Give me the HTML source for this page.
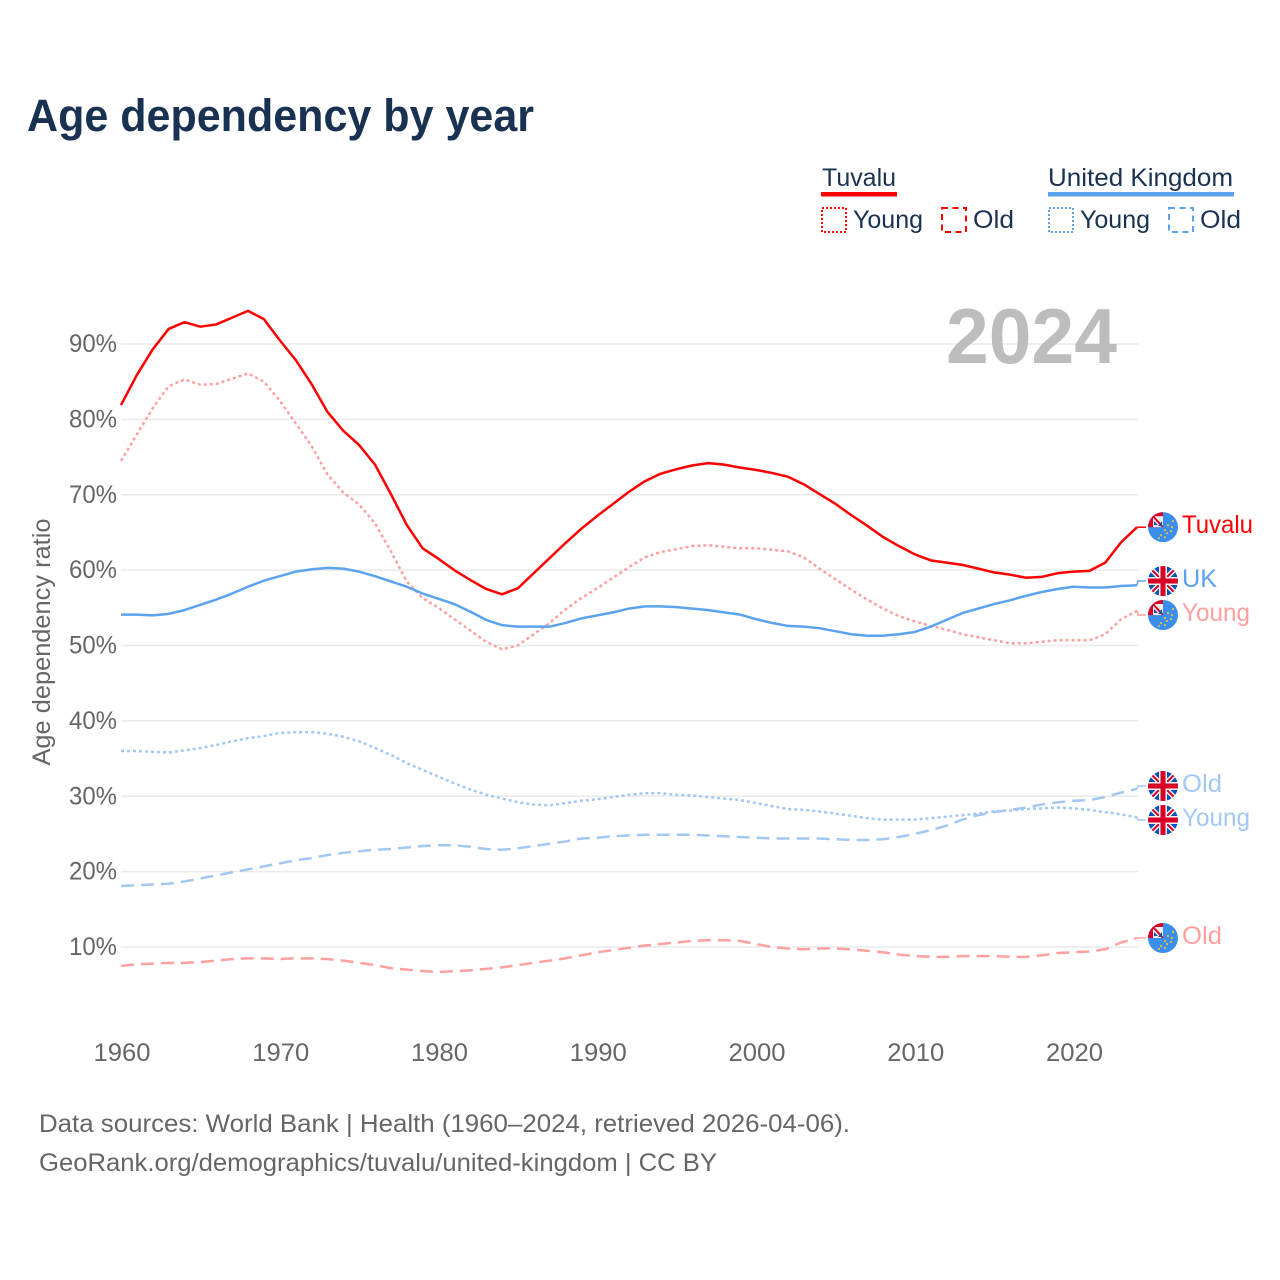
<!DOCTYPE html>
<html lang="en">
<head>
<meta charset="utf-8">
<title>Age dependency by year</title>
<style>
html,body{margin:0;padding:0;background:#fff;}
svg{display:block;font-family:"Liberation Sans",sans-serif;}
</style>
</head>
<body>
<svg id="chart" xmlns="http://www.w3.org/2000/svg" width="1280" height="1280" viewBox="0 0 1280 1280">
  <defs>
    <clipPath id="flag-clip"><circle cx="0" cy="0" r="15"/></clipPath>
    <clipPath id="tv-jack-clip"><rect x="-15" y="-15" width="15" height="15"/></clipPath>
    <symbol id="flag-uk" viewBox="-15 -15 30 30" overflow="visible">
      <g clip-path="url(#flag-clip)">
        <rect x="-15" y="-15" width="30" height="30" fill="#0052b4"/>
        <path d="M-15 -15L15 15M15 -15L-15 15" stroke="#f0f0f0" stroke-width="5"/>
        <path d="M-15 -15L15 15M15 -15L-15 15" stroke="#d80027" stroke-width="2"/>
        <path d="M0 -15V15M-15 0H15" stroke="#f0f0f0" stroke-width="8"/>
        <path d="M0 -15V15M-15 0H15" stroke="#d80027" stroke-width="5"/>
      </g>
    </symbol>
    <symbol id="flag-tv" viewBox="-15 -15 30 30" overflow="visible">
      <g clip-path="url(#flag-clip)">
        <rect x="-15" y="-15" width="30" height="30" fill="#3a8fee"/>
        <rect x="-15" y="-15" width="15" height="15" fill="#d80027"/>
        <rect x="-10" y="-11" width="10" height="11" fill="#f0f0f0"/>
        <g clip-path="url(#tv-jack-clip)">
          <path d="M-10 -11L0 0" stroke="#d80027" stroke-width="2"/>
          <path d="M-5 -1L-1 -1L-1 -6Z" fill="#1f4a96"/>
          <path d="M-9 -6L-5 -2L-9 -2Z" fill="#1f4a96"/>
        </g>
        <g fill="#e8c040">
          <circle cx="10" cy="-6" r="1.1"/><circle cx="5" cy="-2" r="1.1"/><circle cx="9" cy="0" r="1.1"/>
          <circle cx="2" cy="3" r="1.1"/><circle cx="8" cy="4" r="1.1"/><circle cx="4" cy="6" r="1.1"/>
          <circle cx="-2" cy="8" r="1.1"/><circle cx="2" cy="10" r="1.1"/><circle cx="-4" cy="11" r="1.1"/>
        </g>
      </g>
    </symbol>
  </defs>

  <text x="27" y="131" font-size="45" font-weight="700" fill="#1a3251" textLength="507" lengthAdjust="spacingAndGlyphs">Age dependency by year</text>

  <g font-size="25" fill="#1a3251">
    <g>
      <text x="822" y="186" textLength="74" lengthAdjust="spacingAndGlyphs">Tuvalu</text>
      <rect x="821" y="192" width="76" height="4.5" fill="#ff0000"/>
      <rect x="822" y="208" width="24" height="24" fill="none" stroke="#ff0000" stroke-width="2" stroke-dasharray="2 2"/>
      <text x="853" y="228" textLength="70" lengthAdjust="spacingAndGlyphs">Young</text>
      <rect x="942" y="208" width="24" height="24" fill="none" stroke="#ff0000" stroke-width="2" stroke-dasharray="6 4.5"/>
      <text x="973" y="228" textLength="41" lengthAdjust="spacingAndGlyphs">Old</text>
    </g>
    <g>
      <text x="1048" y="186" textLength="185" lengthAdjust="spacingAndGlyphs">United Kingdom</text>
      <rect x="1048" y="192" width="186" height="4.5" fill="#5ba3ee"/>
      <rect x="1049" y="208" width="24" height="24" fill="none" stroke="#5ba3ee" stroke-width="2" stroke-dasharray="2 2"/>
      <text x="1080" y="228" textLength="70" lengthAdjust="spacingAndGlyphs">Young</text>
      <rect x="1169" y="208" width="24" height="24" fill="none" stroke="#5ba3ee" stroke-width="2" stroke-dasharray="6 4.5"/>
      <text x="1200" y="228" textLength="41" lengthAdjust="spacingAndGlyphs">Old</text>
    </g>
  </g>

  <g id="grid"></g>
  <g id="yticks" font-size="25" fill="#666"></g>
  <g id="xticks" font-size="25" fill="#666"></g>

  <text transform="translate(50,642) rotate(-90)" text-anchor="middle" font-size="25" fill="#666" textLength="247" lengthAdjust="spacingAndGlyphs">Age dependency ratio</text>

  <text x="946" y="363" font-size="78" font-weight="700" fill="#bdbdbd" textLength="171" lengthAdjust="spacingAndGlyphs">2024</text>

  <g id="series"></g>
  <g id="end-labels" font-size="25"></g>

  <g font-size="25" fill="#666">
    <text x="39" y="1132" textLength="811" lengthAdjust="spacingAndGlyphs">Data sources: World Bank | Health (1960–2024, retrieved 2026-04-06).</text>
    <text x="39" y="1171" textLength="678" lengthAdjust="spacingAndGlyphs">GeoRank.org/demographics/tuvalu/united-kingdom | CC BY</text>
  </g>
</svg>
<script>
const firstYear = 1960;
const yTickValues = [10, 20, 30, 40, 50, 60, 70, 80, 90];
const xTickValues = [1960, 1970, 1980, 1990, 2000, 2010, 2020];

const tuvaluTotal = [81.9,85.9,89.3,92,92.9,92.3,92.6,93.5,94.4,93.3,90.5,87.9,84.7,81,78.5,76.6,74,70.1,66,62.9,61.5,60,58.7,57.5,56.8,57.6,59.6,61.6,63.6,65.5,67.2,68.8,70.4,71.8,72.8,73.4,73.9,74.2,74,73.6,73.3,72.9,72.4,71.4,70.1,68.8,67.3,65.9,64.4,63.2,62.1,61.3,61,60.7,60.2,59.7,59.4,59,59.1,59.6,59.8,59.9,61,63.7,65.7];
const tuvaluYoung = [74.5,78,81.5,84.4,85.3,84.6,84.7,85.4,86.1,85,82.5,79.5,76.5,72.7,70.3,68.7,66.2,62.5,58.5,56.3,55,53.5,52,50.5,49.5,50,51.5,53,54.8,56.3,57.6,59,60.4,61.7,62.4,62.8,63.2,63.3,63.1,62.9,62.9,62.7,62.5,61.7,60.2,58.8,57.4,56.1,54.9,53.9,53.2,52.6,52.1,51.5,51.1,50.7,50.3,50.3,50.5,50.7,50.7,50.7,51.5,53.5,54.6];
const tuvaluOld = [7.5,7.7,7.8,7.9,7.9,8,8.2,8.4,8.5,8.5,8.4,8.5,8.5,8.4,8.2,7.9,7.6,7.2,7,6.8,6.7,6.8,6.9,7.1,7.3,7.6,7.9,8.2,8.5,8.9,9.3,9.6,9.9,10.2,10.4,10.6,10.8,10.9,10.9,10.8,10.4,10,9.8,9.7,9.8,9.8,9.7,9.5,9.3,9,8.8,8.7,8.7,8.8,8.8,8.8,8.7,8.7,8.9,9.2,9.3,9.4,9.7,10.6,11.2];
const ukTotal = [54.1,54.1,54,54.2,54.7,55.4,56.1,56.9,57.8,58.6,59.2,59.8,60.1,60.3,60.2,59.8,59.2,58.5,57.8,56.9,56.2,55.5,54.5,53.4,52.7,52.5,52.5,52.5,53,53.6,54,54.4,54.9,55.2,55.2,55.1,54.9,54.7,54.4,54.1,53.5,53,52.6,52.5,52.3,51.9,51.5,51.3,51.3,51.5,51.8,52.5,53.4,54.3,54.9,55.5,56,56.6,57.1,57.5,57.8,57.7,57.7,57.9,58];
const ukYoung = [36,36,35.9,35.8,36.1,36.4,36.8,37.3,37.7,38,38.4,38.5,38.5,38.3,37.9,37.3,36.4,35.5,34.4,33.5,32.6,31.7,30.9,30.2,29.7,29.2,28.9,28.8,29.1,29.4,29.6,29.9,30.2,30.4,30.4,30.2,30.1,29.9,29.7,29.5,29.1,28.7,28.3,28.2,28,27.7,27.4,27.1,26.9,26.9,26.9,27.1,27.3,27.5,27.7,28,28.1,28.3,28.4,28.5,28.4,28.2,27.9,27.6,27.2];
const ukOld = [18.1,18.2,18.3,18.4,18.7,19.1,19.5,19.9,20.3,20.7,21.1,21.5,21.8,22.2,22.5,22.7,22.9,23,23.2,23.4,23.5,23.5,23.3,23,22.9,23.1,23.4,23.7,24,24.4,24.5,24.7,24.8,24.9,24.9,24.9,24.9,24.8,24.7,24.6,24.5,24.4,24.4,24.4,24.4,24.3,24.2,24.2,24.3,24.6,25,25.5,26.1,26.9,27.5,27.9,28.2,28.5,28.9,29.2,29.4,29.5,29.9,30.5,31];

const NS = 'http://www.w3.org/2000/svg';
const xScale = function (year) { return 121 + (year - firstYear) * 15.875; };
const yScale = function (v) { return 1022.4 - v * 7.5375; };
const mk = function (tag, attrs, parent) {
  const el = document.createElementNS(NS, tag);
  for (const k in attrs) el.setAttribute(k, attrs[k]);
  parent.appendChild(el);
  return el;
};

const gridG = document.getElementById('grid');
const yG = document.getElementById('yticks');
yTickValues.forEach(function (v) {
  const line = mk('line', {x1: 121, x2: 1138, y1: yScale(v), y2: yScale(v), stroke: '#eaeaea', 'stroke-width': 1.5}, gridG);
  
  
  const t = mk('text', {x: 117, y: yScale(v) + 8, 'text-anchor': 'end', textLength: 48, lengthAdjust: 'spacingAndGlyphs'}, yG);
  
  
  t.textContent = v + '%';
});

const xG = document.getElementById('xticks');
xTickValues.forEach(function (yr) {
  const t = mk('text', {x: xScale(yr) + 1, y: 1061, 'text-anchor': 'middle', textLength: 57, lengthAdjust: 'spacingAndGlyphs'}, xG);
  
  
  t.textContent = yr;
});

const seriesList = [
  {key: 'tuvalu-old', values: tuvaluOld, color: '#ffa0a0', dash: '13 7', label: 'Old', flag: 'flag-tv', labelWidth: 40},
  {key: 'uk-old', values: ukOld, color: '#a3c8f1', dash: '13 7', label: 'Old', flag: 'flag-uk', labelWidth: 40},
  {key: 'uk-young', values: ukYoung, color: '#a3c8f1', dash: '3 3', label: 'Young', flag: 'flag-uk', labelWidth: 68},
  {key: 'tuvalu-young', values: tuvaluYoung, color: '#ffa0a0', dash: '3 3', label: 'Young', flag: 'flag-tv', labelWidth: 68},
  {key: 'uk-total', values: ukTotal, color: '#5ba3ee', dash: '', label: 'UK', flag: 'flag-uk', labelWidth: 35},
  {key: 'tuvalu-total', values: tuvaluTotal, color: '#ff0000', dash: '', label: 'Tuvalu', flag: 'flag-tv', labelWidth: 71}
];

const seriesG = document.getElementById('series');
seriesList.forEach(function (s) {
  const d = s.values.map(function (v, i) {
    return (i ? 'L' : 'M') + xScale(firstYear + i).toFixed(2) + ' ' + yScale(v).toFixed(2);
  }).join('');
  const attrs = {d: d, fill: 'none', stroke: s.color, 'stroke-width': 2.5, 'stroke-linejoin': 'round'};
  if (s.dash) attrs['stroke-dasharray'] = s.dash;
  const p = mk('path', attrs, seriesG);
  
  
});

/* end labels: start at the last value, then push apart pairs that would collide */
const minGap = 34;
const placed = seriesList.map(function (s) {
  const last = yScale(s.values[s.values.length - 1]);
  return {s: s, end: last, y: last};
}).sort(function (a, b) { return a.y - b.y; });
for (let pass = 0; pass < 8; pass++) {
  for (let i = 1; i < placed.length; i++) {
    const gap = placed[i].y - placed[i - 1].y;
    if (gap < minGap) {
      const shift = (minGap - gap) / 2;
      placed[i - 1].y -= shift;
      placed[i].y += shift;
    }
  }
}
const labelG = document.getElementById('end-labels');
const endX = xScale(firstYear + tuvaluTotal.length - 1);
placed.forEach(function (p) {
  const c = mk('path', {d: 'M' + endX + ' ' + p.end + 'L' + (endX + 1) + ' ' + p.y + 'H' + (endX + 9), fill: 'none', stroke: p.s.color, 'stroke-width': 1.5}, labelG);
  
  
  const f = mk('use', {href: '#' + p.s.flag, x: 1148, y: p.y - 15, width: 30, height: 30}, labelG);
  
  
  const t = mk('text', {x: 1182, y: p.y + 6, fill: p.s.color, textLength: p.s.labelWidth, lengthAdjust: 'spacingAndGlyphs'}, labelG);
  
  
  t.textContent = p.s.label;
});
</script>
</body>
</html>
